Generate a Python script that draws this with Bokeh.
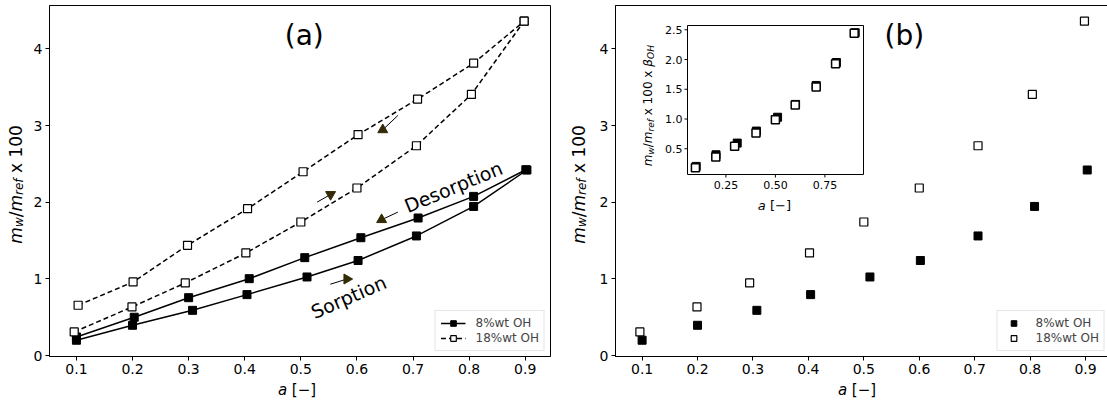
import math
from bokeh.plotting import figure
from bokeh.models import (Range1d, Label, Legend, LegendItem, ColumnDataSource,
                          FixedTicker)
from bokeh.layouts import row, column
from bokeh.embed import file_html
from bokeh.resources import INLINE
from bokeh.core.properties import value

# ---------------- data ----------------
a_8_sorp = [0.100, 0.200, 0.307, 0.404, 0.511, 0.602, 0.706, 0.808, 0.903]
m_8_sorp = [0.20, 0.395, 0.59, 0.795, 1.025, 1.24, 1.56, 1.945, 2.42]
a_8_desorp = [0.100, 0.203, 0.300, 0.408, 0.507, 0.607, 0.709, 0.808, 0.901]
m_8_desorp = [0.243, 0.50, 0.755, 1.003, 1.277, 1.537, 1.794, 2.076, 2.423]
a_18_sorp = [0.096, 0.199, 0.294, 0.402, 0.500, 0.600, 0.706, 0.804, 0.898]
m_18_sorp = [0.308, 0.634, 0.947, 1.338, 1.742, 2.185, 2.736, 3.405, 4.36]
a_18_desorp = [0.103, 0.201, 0.298, 0.405, 0.504, 0.602, 0.708, 0.808, 0.898]
m_18_desorp = [0.656, 0.96, 1.438, 1.915, 2.397, 2.88, 3.344, 3.813, 4.36]

# inset (b): values scaled by beta_OH
inset_8 = [0.203, 0.399, 0.595, 0.797, 1.03, 1.245, 1.564, 1.95, 2.45]
inset_18 = [0.18, 0.36, 0.54, 0.763, 0.987, 1.234, 1.54, 1.93, 2.44]

x_ticks = [0.1, 0.2, 0.3, 0.4, 0.5, 0.6, 0.7, 0.8, 0.9]
y_ticks = [0, 1, 2, 3, 4]
inset_x_ticks = [0.25, 0.50, 0.75]
inset_y_ticks = [0.5, 1.0, 1.5, 2.0, 2.5]

series_labels = ["8%wt OH", "18%wt OH"]

# direction arrows (panel a)
arrow_tail_x = [0.673, 0.529, 0.673, 0.5525]
arrow_tail_y = [3.131, 2.001, 1.871, 0.930]
arrow_head_x = [0.646, 0.553, 0.644, 0.582]
arrow_head_y = [2.944, 2.101, 1.772, 0.998]
arrow_marker = ["triangle", "inverted_triangle", "triangle", "triangle"]
arrow_angle = [0.0, 0.0, 0.0, -math.pi / 2]

# ---------------- style / layout ----------------
FONT = "DejaVu Sans"
ARROW_COLOR = "#332b05"
X_RANGE = (0.052, 0.945)
Y_RANGE = (-0.012, 4.565)
FH = 351
TOP, BOTTOM = 5, 24
FW_A, FW_B = 501, 495
BL = 16
YL_A, YL_B = 30, 36
BR_A, BR_B = 10, 2
XL_H = 19
INSET_L, INSET_T, INSET_W, INSET_H = 72, 20, 176, 149
IX = (0.056, 0.945)
IY = (0.067, 2.572)
BASE_FIX = 0.28     # empirical shift (em) of the alphabetic anchor
ALONG_FIX = 0.3     # empirical shift (em) along rotated text

EM = {'m': 0.974, 'w': 0.818, '/': 0.337, 'r': 0.411, 'e': 0.615, 'f': 0.352,
      ' ': 0.318, 'x': 0.592, '1': 0.636, '0': 0.636, 'β': 0.65, 'O': 0.787,
      'H': 0.752, 'a': 0.613, '[': 0.39, ']': 0.39, '−': 0.838}


def text_w(txt, fs):
    return sum(EM.get(c, 0.6) for c in txt) * fs


def composite(p, pieces, x, y, off, size, sub_size, sub_shift, rotated, **rn):
    widths = [text_w(t, sub_size if s else size) for t, s, _ in pieces]
    cum = -sum(widths) / 2
    for (txt, is_sub, ital), w in zip(pieces, widths):
        fs = sub_size if is_sub else size
        stripped = txt.lstrip()
        lead = text_w(txt[:len(txt) - len(stripped)], fs)
        shift = sub_shift if is_sub else 0
        if rotated:
            kw = dict(x_offset=off + shift - BASE_FIX * size,
                      y_offset=cum + lead + ALONG_FIX * size, angle=math.pi / 2)
        else:
            kw = dict(x_offset=cum + lead, y_offset=off - shift + BASE_FIX * size, angle=0)
        p.add_layout(Label(x=x, y=y, text=stripped, text_align="left",
                           text_baseline="alphabetic", text_font=FONT,
                           text_font_size=f"{fs}px",
                           text_font_style="italic" if ital else "normal",
                           text_color="black", **kw, **rn))
        cum += w


def make_fig(frame_w, bl, br):
    p = figure(frame_width=frame_w, frame_height=FH,
               x_range=Range1d(*X_RANGE), y_range=Range1d(*Y_RANGE),
               output_backend="svg", toolbar_location=None,
               min_border_left=bl, min_border_right=br,
               min_border_top=TOP, min_border_bottom=BOTTOM)
    p.title.visible = False
    p.xgrid.visible = False
    p.ygrid.visible = False
    p.outline_line_color = "black"
    p.outline_line_width = 1
    p.outline_line_alpha = 1
    p.background_fill_color = "white"
    p.border_fill_color = "white"
    p.xaxis.ticker = FixedTicker(ticks=x_ticks)
    p.yaxis.ticker = FixedTicker(ticks=y_ticks)
    for ax in (p.xaxis[0], p.yaxis[0]):
        ax.axis_line_color = "black"
        ax.major_tick_in = 0
        ax.major_tick_out = 4
        ax.minor_tick_in = 0
        ax.minor_tick_out = 0
        ax.major_label_text_font = FONT
        ax.major_label_text_font_size = "14px"
        ax.major_label_text_color = "black"
        ax.major_label_standoff = 3
        ax.axis_label = None
        ax.axis_label_standoff = 0
    return p


def text_fig(w, h):
    f = figure(frame_width=w, frame_height=h, x_range=Range1d(0, w), y_range=Range1d(0, h),
               output_backend="svg", toolbar_location=None, min_border=0,
               x_axis_location=None, y_axis_location=None)
    f.title.visible = False
    f.outline_line_color = None
    f.xgrid.visible = False
    f.ygrid.visible = False
    f.background_fill_color = "white"
    f.border_fill_color = "white"
    return f


ylab_pieces = [("m", False, True), ("w", True, True), ("/", False, False),
               ("m", False, True), ("ref", True, True), (" x 100", False, False)]
xlab_pieces = [("a", False, True), (" [−]", False, False)]

# ---------------- panel (a) ----------------
pa = make_fig(FW_A, BL, BR_A)
l8s = pa.line(a_8_sorp, m_8_sorp, line_color="black", line_width=1.5)
l8d = pa.line(a_8_desorp, m_8_desorp, line_color="black", line_width=1.5)
l18s = pa.line(a_18_sorp, m_18_sorp, line_color="black", line_width=1.5, line_dash="5 3")
l18d = pa.line(a_18_desorp, m_18_desorp, line_color="black", line_width=1.5, line_dash="5 3")
s8s = pa.scatter(a_8_sorp, m_8_sorp, marker="square", size=8, fill_color="black", line_color="black")
s8d = pa.scatter(a_8_desorp, m_8_desorp, marker="square", size=8, fill_color="black", line_color="black")
s18s = pa.scatter(a_18_sorp, m_18_sorp, marker="square", size=8, fill_color="white", line_color="black", line_width=1.2)
s18d = pa.scatter(a_18_desorp, m_18_desorp, marker="square", size=8, fill_color="white", line_color="black", line_width=1.2)

pa.segment(arrow_tail_x, arrow_tail_y, arrow_head_x, arrow_head_y, line_color="black", line_width=1)
arrow_src = ColumnDataSource(dict(x=arrow_head_x, y=arrow_head_y, marker=arrow_marker, angle=arrow_angle))
pa.scatter("x", "y", marker="marker", angle="angle", size=10, fill_color=ARROW_COLOR,
           line_color=ARROW_COLOR, source=arrow_src)

pa.add_layout(Label(x=0.772, y=2.20, text="Desorption", angle=math.radians(22.5),
                    text_align="center", text_baseline="middle", text_font=FONT,
                    text_font_size="19px", text_color="black"))
pa.add_layout(Label(x=0.585, y=0.765, text="Sorption", angle=math.radians(23.5),
                    text_align="center", text_baseline="middle", text_font=FONT,
                    text_font_size="19px", text_color="black"))
pa.add_layout(Label(x=0.506, y=4.17, text="(a)", text_align="center", text_baseline="middle",
                    text_font=FONT, text_font_size="28px", text_color="black"))

leg_a = Legend(items=[LegendItem(label=series_labels[0], renderers=[l8s, s8s]),
                      LegendItem(label=series_labels[1], renderers=[l18s, s18s])],
               location="bottom_right", label_text_font=FONT, label_text_font_size="12px",
               glyph_width=25, glyph_height=14, label_height=14, label_standoff=10,
               spacing=1, padding=5, margin=5, border_line_color="#cccccc",
               border_line_width=1, background_fill_alpha=0.8)
pa.add_layout(leg_a)

# ---------------- panel (b) ----------------
pb = make_fig(FW_B, BL, BR_B)
b8 = pb.scatter(a_8_sorp, m_8_sorp, marker="square", size=8, fill_color="black", line_color="black")
b18 = pb.scatter(a_18_sorp, m_18_sorp, marker="square", size=8, fill_color="white",
                 line_color="black", line_width=1.2)
pb.add_layout(Label(x=0.573, y=4.17, text="(b)", text_align="center", text_baseline="middle",
                    text_font=FONT, text_font_size="28px", text_color="black"))
leg_b = Legend(items=[LegendItem(label=series_labels[0], renderers=[b8]),
                      LegendItem(label=series_labels[1], renderers=[b18])],
               location="bottom_right", label_text_font=FONT, label_text_font_size="12px",
               glyph_width=22, glyph_height=14, label_height=14, label_standoff=11,
               spacing=1, padding=5, margin=5, border_line_color="#cccccc",
               border_line_width=1, background_fill_alpha=0.8)
pb.add_layout(leg_b)

# inset via extra ranges mapped onto a sub-rectangle of the frame
ppu_x = INSET_W / (IX[1] - IX[0])
ix_start = IX[0] - INSET_L / ppu_x
ppu_y = INSET_H / (IY[1] - IY[0])
iy_top = IY[1] + INSET_T / ppu_y
pb.extra_x_ranges = {"ix": Range1d(ix_start, ix_start + FW_B / ppu_x)}
pb.extra_y_ranges = {"iy": Range1d(iy_top - FH / ppu_y, iy_top)}
rn = dict(x_range_name="ix", y_range_name="iy")

pb.quad(left=[IX[0]], right=[IX[1]], bottom=[IY[0]], top=[IY[1]], fill_color="white",
        line_color="black", line_width=1, **rn)
pb.ray(x=[IX[0]] * len(inset_y_ticks), y=inset_y_ticks, length=3, length_units="screen",
       angle=math.pi, line_color="black", line_width=1, **rn)
pb.ray(x=inset_x_ticks, y=[IY[0]] * len(inset_x_ticks), length=3, length_units="screen",
       angle=-math.pi / 2, line_color="black", line_width=1, **rn)
pb.text(x=[IX[0]] * len(inset_y_ticks), y=inset_y_ticks,
        text=[f"{t:.1f}" for t in inset_y_ticks], x_offset=-5, text_align="right",
        text_baseline="middle", text_font=value(FONT), text_font_size="11px",
        text_color="black", **rn)
pb.text(x=inset_x_ticks, y=[IY[0]] * len(inset_x_ticks),
        text=[f"{t:.2f}" for t in inset_x_ticks], y_offset=6, text_align="center",
        text_baseline="top", text_font=value(FONT), text_font_size="11px",
        text_color="black", **rn)
pb.scatter(a_8_sorp, inset_8, marker="square", size=8, fill_color="black", line_color="black", **rn)
pb.scatter(a_18_sorp, inset_18, marker="square", size=8, fill_color="white", line_color="black",
           line_width=1.5, **rn)

inset_ylab = ylab_pieces + [(" x ", False, False), ("β", False, True), ("OH", True, True)]
composite(pb, inset_ylab, IX[0], 1.163, -36, 12, 9, 2.5, True, **rn)
composite(pb, xlab_pieces, 0.495, IY[0], -35, 13, 13, 0, False, **rn)

# ---------------- axis-label strips ----------------
PH = TOP + FH + BOTTOM
ylab_a = text_fig(YL_A, PH)
composite(ylab_a, ylab_pieces, 20, PH - 184, 0, 17, 12, 3.5, True)
ylab_b = text_fig(YL_B, PH)
composite(ylab_b, ylab_pieces, YL_B - 13, PH - 184, 0, 17, 12, 3.5, True)

GA = YL_A + BL + FW_A + BR_A
GB = YL_B + BL + FW_B + BR_B
xlab_a = text_fig(GA, XL_H)
composite(xlab_a, xlab_pieces, YL_A + BL + FW_A / 2, 5, 0, 15, 15, 0, False)
xlab_b = text_fig(GB, XL_H)
composite(xlab_b, xlab_pieces, YL_B + BL + FW_B / 2, 5, 0, 15, 15, 0, False)

layout = column(row(ylab_a, pa, ylab_b, pb), row(xlab_a, xlab_b))
open("out.html", "w").write(file_html(layout, INLINE))
